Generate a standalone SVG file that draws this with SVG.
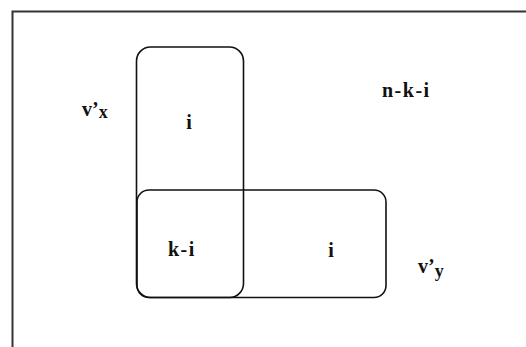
<svg xmlns="http://www.w3.org/2000/svg" width="526" height="347" viewBox="0 0 526 347">
<style>
  .lbl { font-family: "Liberation Serif", "Times New Roman", serif; font-weight: bold; font-size: 20px; fill: #111; }
  .sp { letter-spacing: 1.5px; }
  .set { fill: none; stroke: #111; stroke-width: 1.6; }
</style>
<rect x="0" y="0" width="526" height="347" fill="#fff"/>
<g id="frame">
  <path d="M12.5,347 V11.5 H526" fill="none" stroke="#333" stroke-width="2"/>
</g>
<g id="vx-set">
  <rect class="set" x="136.5" y="47" width="107" height="250.5" rx="14" ry="14"/>
</g>
<g id="vy-set">
  <rect class="set" x="137" y="190" width="249" height="107.5" rx="12" ry="12"/>
</g>
<g id="labels">
  <text class="lbl" x="82" y="116">v’<tspan font-size="18" dy="2">x</tspan></text>
  <text class="lbl" x="189" y="129" text-anchor="middle">i</text>
  <text class="lbl sp" x="382" y="97">n-k-i</text>
  <text class="lbl sp" x="168" y="256">k-i</text>
  <text class="lbl" x="331" y="257" text-anchor="middle">i</text>
  <text class="lbl" x="418" y="273">v’<tspan font-size="18" dy="4">y</tspan></text>
</g>
</svg>
